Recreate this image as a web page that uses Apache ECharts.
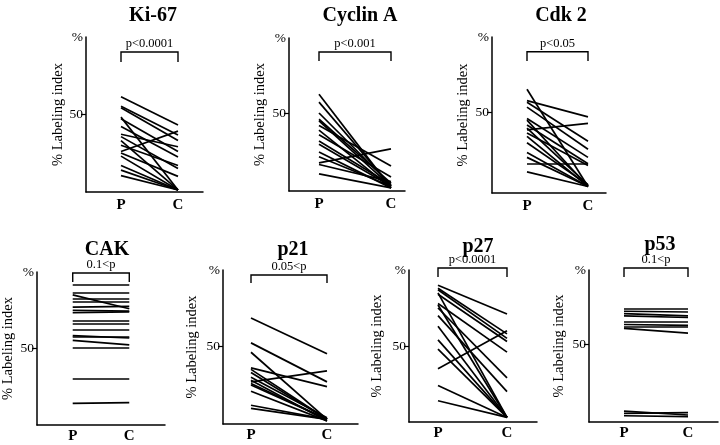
<!DOCTYPE html>
<html><head><meta charset="utf-8">
<script src="https://cdn.jsdelivr.net/npm/echarts@6/dist/echarts.min.js"></script>
<style>html,body{margin:0;padding:0;background:#fff}#c{width:720px;height:445px}</style>
</head><body><div id="c"></div>
<script>
// ---- data ----
const panelNames = ['Ki-67', 'Cyclin A', 'Cdk 2', 'CAK', 'p21', 'p27', 'p53'];
const pValueTexts = ['p<0.0001', 'p<0.001', 'p<0.05', '0.1<p', '0.05<p', 'p<0.0001', '0.1<p'];
const xLabels = ['P', 'C'];
const yTickLabel = '50';
const yTopLabel = '%';
const yName = '% Labeling index';

const ki67P = [61, 55, 54, 48, 47, 42, 37, 35.5, 33, 30, 26, 25, 23, 17, 14, 10.5];
const ki67C = [43, 36.5, 33, 1.3, 26, 22.5, 29, 15, 1.3, 17, 39, 10, 1.3, 1.3, 1.3, 1.3];
const cycP = [62, 57, 50, 46, 45, 42, 39, 36, 32, 30, 25, 22, 18, 17, 11];
const cycC = [2, 3, 4, 5, 3, 16, 2, 9, 4, 3, 2, 3, 27, 6, 2];
const cdkP = [64, 57, 56, 53, 46, 45, 42, 40, 39, 37, 35, 31, 25, 22, 18, 13];
const cdkC = [4, 47, 32, 27, 22, 4, 18, 5, 43, 17, 4, 5, 4, 4, 18, 4];
const cakP = [91, 86, 84.5, 82, 80, 76.5, 74.5, 73, 68, 65.5, 62, 58, 57, 55, 50, 30, 14];
const cakC = [91, 86, 75.5, 82, 80, 77, 74, 73.5, 68, 65.5, 62, 56.5, 57, 52, 50, 30, 14.5];
const p21P = [68, 52, 46, 36, 35, 33, 30, 28, 27, 26, 25, 21, 12, 10];
const p21C = [45, 27, 3, 24, 3, 3, 4, 2, 34, 3, 3, 2, 3, 3];
const p27P = [90, 88, 87, 85, 84, 78, 77, 75, 70, 63, 54, 48, 35, 24, 14];
const p27C = [71, 58, 55, 3, 53, 46, 3, 29, 20, 3, 3, 3, 60, 3, 3];
const p53P = [72.3, 71, 69.5, 68, 64, 62.5, 61, 60, 7, 5.5, 4];
const p53C = [72.3, 70.5, 68, 67, 64, 62, 61, 57, 4.5, 6, 3.5];

const bracketTop = [89.7, 89.1, 87.2, 98.7, 95.5, 101.3, 98.7];
const bracketBottom = [83.3, 83.3, 81.5, 92.9, 90.4, 95.4, 92.9];

const seriesP = [ki67P, cycP, cdkP, cakP, p21P, p27P, p53P];
const seriesC = [ki67C, cycC, cdkC, cakC, p21C, p27C, p53C];

// ---- layout (pixels): [axisX, axisTop, axisEndX, zeroY, fiftyY, P px, C px] ----
const layout = [
  [86, 37, 203, 192, 114, 121, 178],
  [289, 38, 405, 191, 113, 319, 391],
  [492, 37, 606, 193, 112, 527, 588],
  [36, 272, 165, 425, 348, 72, 129],
  [223, 270, 358, 424, 346, 251, 327],
  [409, 270, 537, 422, 346, 438, 507],
  [589, 270, 718, 422, 344, 624, 688]
];
const titlePos = [[148, 1], [355, 1], [556, 1], [102, 235], [288, 235], [473, 232], [655, 230]];
const nameGaps = [18, 21, 21, 21, 23, 24, 22];

const serif = '"Liberation Serif", "DejaVu Serif", serif';
const ink = '#000';
const grid = [], xAxis = [], yAxis = [], series = [], title = [];

layout.forEach((L, i) => {
  const [ax, top, endX, zeroY, fiftyY, pX, cX] = L;
  const unit = cX - pX;
  const xmin = (ax - pX) / unit;
  const xmax = 1 + (endX - cX) / unit;
  const yMax = 50 * (zeroY - top) / (zeroY - fiftyY);
  grid.push({ left: ax, top: top, width: endX - ax, height: zeroY - top });
  xAxis.push({
    type: 'value', gridIndex: i, min: xmin, max: xmax,
    axisLine: { show: true, onZero: false, lineStyle: { color: ink, width: 1.5 } },
    axisTick: { show: false }, splitLine: { show: false },
    axisLabel: {
      customValues: [0, 1], formatter: v => xLabels[Math.round(v)],
      color: ink, fontFamily: serif, fontWeight: 'bold', fontSize: 15, margin: i < 3 ? 6 : 4
    }
  });
  yAxis.push({
    type: 'value', gridIndex: i, min: 0, max: yMax,
    axisLine: { show: true, onZero: false, lineStyle: { color: ink, width: 1.5 } },
    axisTick: { show: true, customValues: [50], length: 5, lineStyle: { color: ink, width: 1.2 } },
    splitLine: { show: false },
    axisLabel: {
      customValues: [50, yMax], formatter: v => (Math.abs(v - 50) < 0.01 ? yTickLabel : yTopLabel),
      color: ink, fontFamily: serif, fontSize: 13.5, margin: 3
    },
    name: yName, nameLocation: 'middle', nameRotate: 90, nameGap: nameGaps[i],
    nameTextStyle: { color: ink, fontFamily: serif, fontSize: 14.5 }
  });
  title.push({
    text: panelNames[i], left: titlePos[i][0], top: titlePos[i][1], textAlign: 'center',
    textStyle: { fontFamily: serif, fontWeight: 'bold', fontSize: 20, color: ink }
  });
  const P = seriesP[i], C = seriesC[i];
  series.push({
    type: 'lines', coordinateSystem: 'cartesian2d', xAxisIndex: i, yAxisIndex: i,
    lineStyle: { color: ink, width: 1.7, opacity: 1 }, silent: true,
    data: P.map((p, k) => ({ coords: [[0, p], [1, C[k]]] }))
  });
  series.push({
    type: 'lines', coordinateSystem: 'cartesian2d', xAxisIndex: i, yAxisIndex: i, clip: false,
    polyline: true, lineStyle: { color: ink, width: 1.4, opacity: 1 }, silent: true,
    data: [{ coords: [[0, bracketBottom[i]], [0, bracketTop[i]], [1, bracketTop[i]], [1, bracketBottom[i]]] }]
  });
  series.push({
    type: 'scatter', xAxisIndex: i, yAxisIndex: i, clip: false, symbolSize: 0, silent: true,
    data: [[0.5, bracketTop[i]]],
    label: { show: true, position: 'top', distance: 2, formatter: () => pValueTexts[i],
      color: ink, fontFamily: serif, fontSize: 12.5, opacity: 1 }
  });
});

const chart = echarts.init(document.getElementById('c'), null, { renderer: 'canvas' });
chart.setOption({ backgroundColor: '#fff', animation: false, title, grid, xAxis, yAxis, series });
</script></body></html>
